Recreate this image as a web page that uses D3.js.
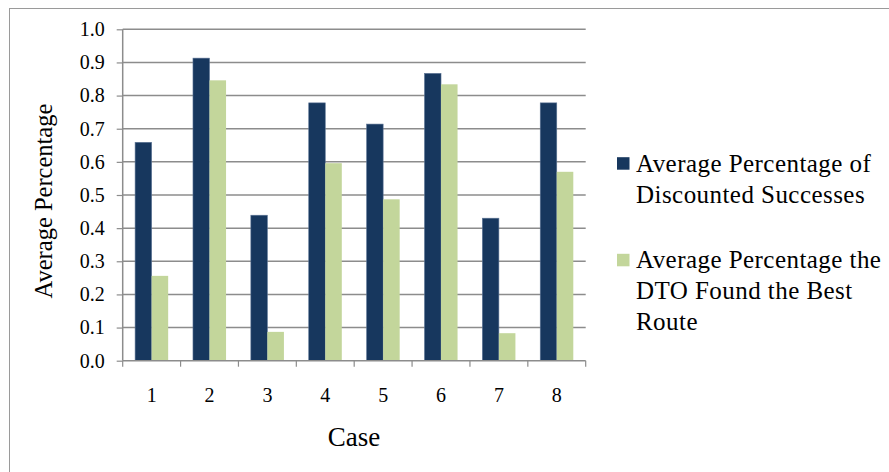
<!DOCTYPE html>
<html>
<head>
<meta charset="utf-8">
<script src="https://cdn.jsdelivr.net/npm/d3@7"></script>
<style>
  html, body { margin: 0; padding: 0; background: #fff; }
  svg text { font-family: "Liberation Serif", "Times New Roman", serif; }
</style>
</head>
<body>
<svg id="chart" width="889" height="472"></svg>
<script>
// Cases on the x axis
const cases = ["1", "2", "3", "4", "5", "6", "7", "8"];
// Series names (legend lines)
const seriesNames = [
  ["Average Percentage of", "Discounted Successes"],
  ["Average Percentage the", "DTO Found the Best", "Route"]
];
const seriesColors = ["#17375E", "#C3D69B"];
// Values per case
const discountedSuccesses = [0.659, 0.913, 0.439, 0.778, 0.714, 0.867, 0.430, 0.778];
const foundBestRoute      = [0.256, 0.846, 0.087, 0.596, 0.487, 0.834, 0.083, 0.570];
const yTicks = [0, 0.1, 0.2, 0.3, 0.4, 0.5, 0.6, 0.7, 0.8, 0.9, 1.0];

const series = [discountedSuccesses, foundBestRoute];

const svg = d3.select("#chart");
const plot = { left: 122.7, right: 585.7, top: 29.3, bottom: 360.7 };

// outer chart frame
svg.append("rect")
  .attr("x", 9.5).attr("y", 8.5)
  .attr("width", 1000).attr("height", 1000)
  .attr("fill", "none").attr("stroke", "#9a9a9a").attr("stroke-width", 1);

const y = d3.scaleLinear().domain([0, 1]).range([plot.bottom, plot.top]);
const x0 = d3.scaleBand().domain(cases).range([plot.left, plot.right]).padding(0);
const x1 = d3.scaleBand().domain([0, 1]).range([0, x0.bandwidth()])
  .paddingInner(0).paddingOuter(0.75);

// horizontal gridlines
svg.append("g").selectAll("line").data(yTicks.slice(1)).join("line")
  .attr("x1", plot.left).attr("x2", plot.right)
  .attr("y1", d => y(d)).attr("y2", d => y(d))
  .attr("stroke", "#8c8c8c").attr("stroke-width", 1.5);

// bars
const groups = svg.append("g").selectAll("g").data(cases).join("g")
  .attr("transform", d => `translate(${x0(d)},0)`);
groups.selectAll("rect")
  .data((c, i) => series.map((s, k) => ({ k, v: s[i] })))
  .join("rect")
  .attr("x", d => x1(d.k))
  .attr("width", x1.bandwidth())
  .attr("y", d => y(d.v))
  .attr("height", d => y(0) - y(d.v))
  .attr("fill", d => seriesColors[d.k])
  .attr("stroke", d => d.k === 0 ? "#5d7596" : "none")
  .attr("stroke-width", 0.6);

// y axis
const yAxis = d3.axisLeft(y).tickValues(yTicks).tickFormat(d3.format(".1f"))
  .tickSize(6).tickPadding(12);
const yg = svg.append("g").attr("transform", `translate(${plot.left},0)`).call(yAxis);
yg.select(".domain").attr("stroke", "#8c8c8c").attr("stroke-width", 1.5)
  .attr("d", `M0,${plot.top}V${plot.bottom}`);
yg.selectAll(".tick line").attr("stroke", "#8c8c8c").attr("stroke-width", 1.2);
yg.selectAll(".tick text").attr("font-size", 20).attr("fill", "#000");

// x axis: line, ticks at category boundaries, centred labels
const xg = svg.append("g");
xg.append("line").attr("x1", plot.left).attr("x2", plot.right)
  .attr("y1", y(0)).attr("y2", y(0))
  .attr("stroke", "#8c8c8c").attr("stroke-width", 1.5);
const bounds = cases.map(c => x0(c)).concat([x0(cases[cases.length - 1]) + x0.bandwidth()]);
xg.selectAll("line.tk").data(bounds).join("line").attr("class", "tk")
  .attr("x1", d => d).attr("x2", d => d)
  .attr("y1", y(0)).attr("y2", y(0) + 6)
  .attr("stroke", "#8c8c8c").attr("stroke-width", 1.2);
xg.selectAll("text").data(cases).join("text")
  .attr("x", d => x0(d) + x0.bandwidth() / 2)
  .attr("y", 402)
  .attr("text-anchor", "middle")
  .attr("font-size", 20)
  .text(d => d);

// axis titles
svg.append("text")
  .attr("x", 354).attr("y", 446)
  .attr("text-anchor", "middle").attr("font-size", 27)
  .text("Case");
svg.append("text")
  .attr("transform", "translate(52,201) rotate(-90)")
  .attr("text-anchor", "middle").attr("font-size", 24.5)
  .text("Average Percentage");

// legend
const legendTop = [171.7, 268.3];
const legend = svg.append("g");
seriesNames.forEach((lines, k) => {
  legend.append("rect")
    .attr("x", 617).attr("y", legendTop[k] - 14.5)
    .attr("width", 12.5).attr("height", 12.5)
    .attr("fill", seriesColors[k]);
  const t = legend.append("text").attr("font-size", 25).attr("letter-spacing", 0.45);
  lines.forEach((ln, j) => {
    t.append("tspan").attr("x", 636).attr("y", legendTop[k] + j * 30.8).text(ln);
  });
});
</script>
</body>
</html>
